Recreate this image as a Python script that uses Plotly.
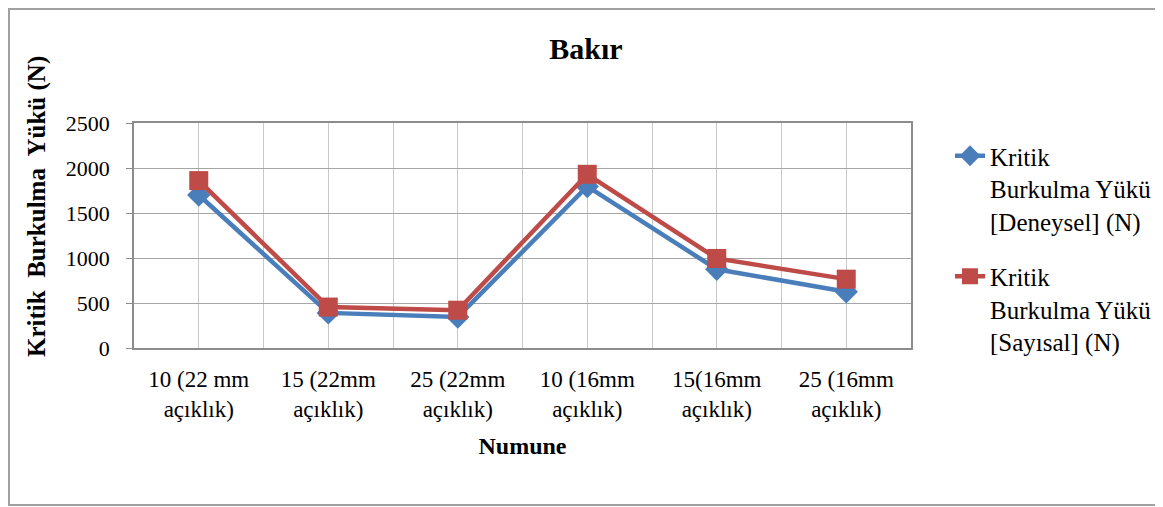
import plotly.graph_objects as go

categories = ["10 (22 mm<br>açıklık)", "15 (22mm<br>açıklık)", "25 (22mm<br>açıklık)",
              "10 (16mm<br>açıklık)", "15(16mm<br>açıklık)", "25 (16mm<br>açıklık)"]
deneysel = [1700, 390, 345, 1795, 875, 625]
sayisal = [1860, 455, 420, 1930, 995, 765]
series_names = ["Kritik<br>Burkulma Yükü<br>[Deneysel] (N)",
                "Kritik<br>Burkulma Yükü<br>[Sayısal] (N)"]
y_ticks = [0, 500, 1000, 1500, 2000, 2500]

FONT = "Liberation Serif"
BLUE = "#4A7EBB"
RED = "#BE4B48"

xpos = list(range(len(categories)))

fig = go.Figure()
fig.add_trace(go.Scatter(
    x=xpos, y=deneysel, name=series_names[0], mode="lines+markers", legendgroup="a",
    line=dict(color=BLUE, width=4.5),
    marker=dict(symbol="diamond", size=18, color=BLUE),
))
fig.add_trace(go.Scatter(
    x=xpos, y=sayisal, name=series_names[1], mode="lines+markers", legendgroup="b",
    line=dict(color=RED, width=4.5),
    marker=dict(symbol="square", size=19, color=RED),
))

OFF = 8  # page offset of the figure in the browser
W, H = 1163, 507
# plot area in screen pixels
PL, PR, PT, PB = 134, 911, 123, 348
L, T = PL - OFF, PT - OFF
R, B = W - (PR - OFF), H - (PB - OFF)
pw, ph = PR - PL, PB - PT


def px_x(p):
    return (p - PL) / pw


def px_y(p):
    return (PB - p) / ph


fig.update_layout(
    width=W, height=H,
    margin=dict(l=L, r=R, t=T, b=B),
    paper_bgcolor="white", plot_bgcolor="white",
    font=dict(family=FONT, size=22, color="black"),
    title=dict(text="<b>Bakır</b>", x=(586 - OFF) / W, xanchor="center",
               y=1 - (48 - OFF) / H, yanchor="middle", yref="container",
               font=dict(family=FONT, size=30, color="black")),
    showlegend=True,
    legend=dict(x=px_x(950), xanchor="left", y=px_y(133), yanchor="top",
                valign="top", tracegroupgap=20, maxheight=450,
                font=dict(family=FONT, size=25, color="black"),
                bgcolor="rgba(0,0,0,0)"),
    xaxis=dict(
        range=[-0.5, len(categories) - 0.5],
        tickvals=xpos, ticktext=categories,
        showgrid=True, gridcolor="#C8C8C8", gridwidth=1.3,
        minor=dict(dtick=1, tick0=0.5, showgrid=True, gridcolor="#C8C8C8", gridwidth=1.3),
        showline=True, linecolor="#8C8C8C", linewidth=1.5, mirror=True,
        ticks="", ticklabelstandoff=10,
        tickfont=dict(family=FONT, size=23, color="black"),
        zeroline=False,
        title=dict(text="<b>Numune</b>", standoff=16,
                   font=dict(family=FONT, size=24, color="black")),
    ),
    yaxis=dict(
        range=[0, 2500], tickvals=y_ticks,
        showgrid=True, gridcolor="#A6A6A6", gridwidth=1.3,
        showline=True, linecolor="#8C8C8C", linewidth=1.5, mirror=True,
        ticks="outside", ticklen=6, tickcolor="#8C8C8C", ticklabelstandoff=12,
        tickfont=dict(family=FONT, size=22, color="black"),
        zeroline=False,
    ),
    annotations=[dict(
        text="<b>Kritik  Burkulma  Yükü (N)</b>", textangle=-90,
        xref="paper", yref="paper", x=px_x(37), y=px_y(207),
        xanchor="center", yanchor="middle", showarrow=False,
        font=dict(family=FONT, size=25, color="black"),
    )],
    shapes=[dict(
        type="rect", xref="paper", yref="paper",
        x0=px_x(9), x1=px_x(1161), y0=px_y(505), y1=px_y(9),
        line=dict(color="#A0A0A0", width=2), fillcolor="rgba(0,0,0,0)", layer="below",
    )],
)

fig.write_html("out.html")
